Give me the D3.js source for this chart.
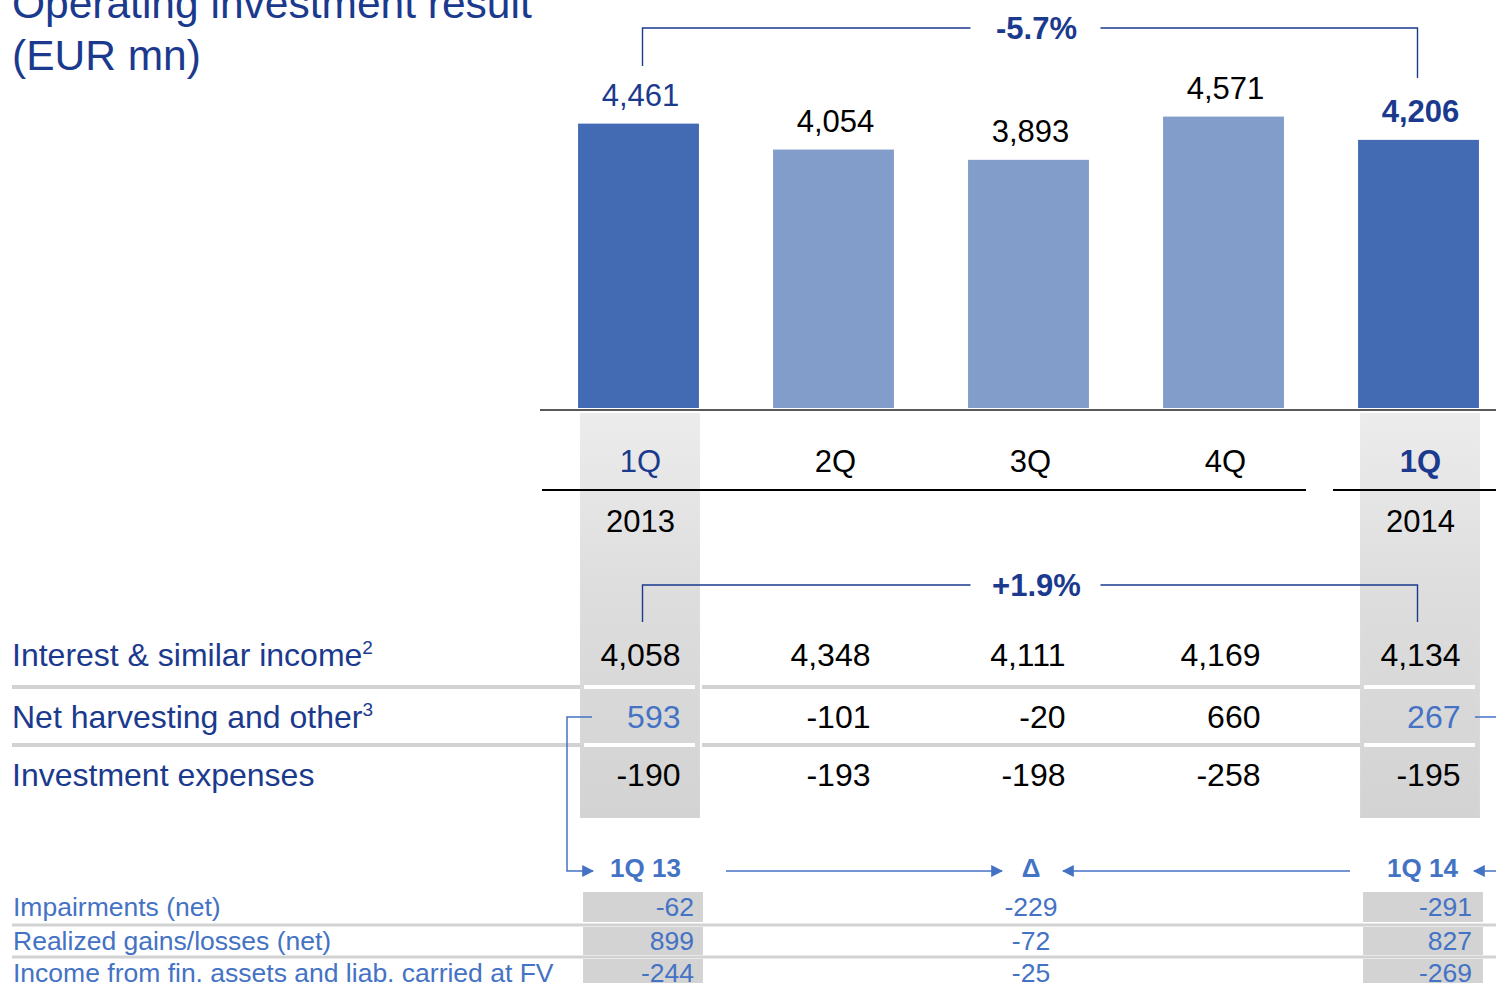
<!DOCTYPE html>
<html>
<head>
<meta charset="utf-8">
<script src="https://cdn.jsdelivr.net/npm/d3@7"></script>
<style>
  html, body { margin: 0; padding: 0; background: #fff; }
  svg { display: block; font-family: "Liberation Sans", Arial, Helvetica, sans-serif; }
</style>
</head>
<body>
<svg id="chart" width="1496" height="983"></svg>
<script>
// Quarterly operating investment result, EUR mn
const quarters = ["1Q", "2Q", "3Q", "4Q", "1Q"];
const years = ["2013", "", "", "", "2014"];
const operatingResult = [4461, 4054, 3893, 4571, 4206];
const highlighted = [true, false, false, false, true];

// Breakdown table
const rowLabels = ["Interest & similar income", "Net harvesting and other", "Investment expenses"];
const rowFootnotes = ["2", "3", ""];
const interestIncome = [4058, 4348, 4111, 4169, 4134];
const netHarvesting = [593, -101, -20, 660, 267];
const investmentExpenses = [-190, -193, -198, -258, -195];

// Change labels between 1Q 13 and 1Q 14
const resultChange = "-5.7%";
const interestChange = "+1.9%";

// Net harvesting detail
const detailHeaders = ["1Q 13", "Δ", "1Q 14"];
const detailLabels = ["Impairments (net)", "Realized gains/losses (net)", "Income from fin. assets and liab. carried at FV"];
const detail1Q13 = [-62, 899, -244];
const detailDelta = [-229, -72, -25];
const detail1Q14 = [-291, 827, -269];

const C = {
  title: "#1b3a8e",
  dark: "#436bb3",
  light: "#839dcb",
  accent: "#4472c4",
  grey: "#d2d2d2"
};

const fmt = d3.formatLocale({ decimal: ".", thousands: ",", grouping: [3], currency: ["", ""], minus: "-" }).format(",");

const svg = d3.select("#chart");

const defs = svg.append("defs");
const grad = defs.append("linearGradient").attr("id", "colShade").attr("x1", 0).attr("y1", 0).attr("x2", 0).attr("y2", 1);
grad.append("stop").attr("offset", "0%").attr("stop-color", "#ececec");
grad.append("stop").attr("offset", "45%").attr("stop-color", "#dddddd");
grad.append("stop").attr("offset", "100%").attr("stop-color", "#d3d3d3");
defs.append("marker").attr("id", "arrow").attr("viewBox", "0 0 10 10").attr("refX", 9).attr("refY", 5)
  .attr("markerWidth", 12).attr("markerHeight", 12).attr("markerUnits", "userSpaceOnUse")
  .attr("orient", "auto")
  .append("path").attr("d", "M0,0 L10,5 L0,10 Z").attr("fill", C.accent);

// Scales
const x = d3.scaleBand().domain(d3.range(quarters.length)).range([541, 1516]).paddingInner(0.38).paddingOuter(0.19);
const y = d3.scaleLinear().domain([0, 6400]).range([408, 0]);
const cx = i => x(i) + x.bandwidth() / 2;

// Title
svg.append("text").attr("x", 12).attr("y", 18).attr("font-size", 42.5).attr("fill", C.title).text("Operating investment result");
svg.append("text").attr("x", 12).attr("y", 70).attr("font-size", 42.5).attr("fill", C.title).text("(EUR mn)");

// Shaded highlight columns behind the table
const hlIdx = d3.range(quarters.length).filter(i => highlighted[i]);
svg.selectAll("rect.shade").data(hlIdx).join("rect").attr("class", "shade")
  .attr("x", i => x(i) + 2).attr("y", 413).attr("width", x.bandwidth() - 1).attr("height", 405)
  .attr("fill", "url(#colShade)");

// Bars
svg.selectAll("rect.bar").data(operatingResult).join("rect").attr("class", "bar")
  .attr("x", (d, i) => x(i)).attr("width", x.bandwidth())
  .attr("y", d => y(d)).attr("height", d => y(0) - y(d))
  .attr("fill", (d, i) => highlighted[i] ? C.dark : C.light);

svg.selectAll("text.barval").data(operatingResult).join("text").attr("class", "barval")
  .attr("x", (d, i) => cx(i) + 2).attr("y", d => y(d) - 18)
  .attr("text-anchor", "middle").attr("font-size", 31)
  .attr("font-weight", (d, i) => i === 4 ? "bold" : "normal")
  .attr("fill", (d, i) => highlighted[i] ? C.title : "#000")
  .text(d => fmt(d));

// Baseline
svg.append("line").attr("x1", 540).attr("x2", 1496).attr("y1", 410).attr("y2", 410).attr("stroke", "#222").attr("stroke-width", 1.5);

// Category axis: quarters and years
svg.selectAll("text.q").data(quarters).join("text").attr("class", "q")
  .attr("x", (d, i) => cx(i) + 2).attr("y", 472).attr("text-anchor", "middle").attr("font-size", 31)
  .attr("font-weight", (d, i) => i === 4 ? "bold" : "normal")
  .attr("fill", (d, i) => highlighted[i] ? C.title : "#000").text(d => d);
svg.append("line").attr("x1", 542).attr("x2", 1306).attr("y1", 490).attr("y2", 490).attr("stroke", "#000").attr("stroke-width", 2);
svg.append("line").attr("x1", 1333).attr("x2", 1496).attr("y1", 490).attr("y2", 490).attr("stroke", "#000").attr("stroke-width", 2);
svg.selectAll("text.yr").data(years).join("text").attr("class", "yr")
  .attr("x", (d, i) => cx(i) + 2).attr("y", 532).attr("text-anchor", "middle").attr("font-size", 31)
  .attr("fill", "#000").text(d => d);

// Change brackets
function bracket(yTop, yL, yR, label) {
  const x0 = cx(0) + 4, x1 = cx(4) - 1, mid = (cx(0) + cx(4)) / 2 + 8;
  const g = svg.append("g").attr("fill", "none").attr("stroke", C.title).attr("stroke-width", 1.4);
  g.append("path").attr("d", `M${x0},${yL} V${yTop} H${mid - 66}`);
  g.append("path").attr("d", `M${mid + 64},${yTop} H${x1} V${yR}`);
  svg.append("text").attr("x", mid).attr("y", yTop + 11).attr("text-anchor", "middle")
    .attr("font-size", 31).attr("font-weight", "bold").attr("fill", C.title).text(label);
}
bracket(28, 66, 78, resultChange);
bracket(585, 622, 622, interestChange);

// Breakdown table
const tableRows = [interestIncome, netHarvesting, investmentExpenses];
const rowBase = [666, 728, 786];
const sepY = [687, 745];
const valueRight = i => cx(i) + (highlighted[i] ? 42 : 37);

sepY.forEach(sy => {
  svg.append("line").attr("x1", 12).attr("x2", x(0) + 2).attr("y1", sy).attr("y2", sy).attr("stroke", C.grey).attr("stroke-width", 4);
  svg.append("line").attr("x1", x(0) + x.bandwidth() + 3).attr("x2", x(4) + 2).attr("y1", sy).attr("y2", sy).attr("stroke", C.grey).attr("stroke-width", 4);
  hlIdx.forEach(i => {
    svg.append("line").attr("x1", x(i) + 6).attr("x2", x(i) + x.bandwidth() - 4).attr("y1", sy).attr("y2", sy).attr("stroke", "#fff").attr("stroke-width", 4);
  });
});

rowLabels.forEach((lab, r) => {
  const t = svg.append("text").attr("x", 12).attr("y", rowBase[r]).attr("font-size", 32).attr("fill", C.title);
  t.append("tspan").text(lab);
  if (rowFootnotes[r]) t.append("tspan").attr("font-size", 19).attr("dy", -12).text(rowFootnotes[r]);
  svg.selectAll(null).data(tableRows[r]).join("text")
    .attr("x", (d, i) => valueRight(i)).attr("y", rowBase[r]).attr("text-anchor", "end").attr("font-size", 32)
    .attr("fill", (d, i) => r === 1 && highlighted[i] ? C.accent : "#000")
    .text(d => fmt(d));
});

// Connectors from net harvesting to the detail table
const aG = svg.append("g").attr("fill", "none").attr("stroke", C.accent).attr("stroke-width", 1.5);
aG.append("path").attr("d", `M${x(0) + 14},717 H567 V871 H593`).attr("marker-end", "url(#arrow)");
aG.append("path").attr("d", "M726,871 H1002").attr("marker-end", "url(#arrow)");
aG.append("path").attr("d", "M1350,871 H1063").attr("marker-end", "url(#arrow)");
aG.append("path").attr("d", `M${x(4) + x.bandwidth() - 4},717 H1496`);
aG.append("path").attr("d", "M1496,871 H1474").attr("marker-end", "url(#arrow)");

const headX = [cx(0) + 7, 1031, cx(4) + 4];
svg.selectAll("text.dh").data(detailHeaders).join("text").attr("class", "dh")
  .attr("x", (d, i) => headX[i]).attr("y", 877).attr("text-anchor", "middle")
  .attr("font-size", 26).attr("font-weight", "bold").attr("fill", C.accent).text(d => d);

// Detail table
const dBase = [916, 950, 982];
const cellTop = [892, 927, 959];
const cellH = [30, 28, 30];
[925, 957].forEach(sy => {
  svg.append("line").attr("x1", 12).attr("x2", 1496).attr("y1", sy).attr("y2", sy).attr("stroke", C.grey).attr("stroke-width", 3);
});
[0, 4].forEach(i => {
  svg.selectAll(null).data(detailLabels).join("rect")
    .attr("x", x(i) + 5).attr("width", x.bandwidth() - 1)
    .attr("y", (d, r) => cellTop[r]).attr("height", (d, r) => cellH[r]).attr("fill", "#d3d3d3");
});
svg.selectAll("text.dl").data(detailLabels).join("text").attr("class", "dl")
  .attr("x", 13).attr("y", (d, r) => dBase[r]).attr("font-size", 26.5).attr("fill", C.accent).text(d => d);
svg.selectAll("text.d13").data(detail1Q13).join("text").attr("class", "d13")
  .attr("x", x(0) + x.bandwidth() - 5).attr("y", (d, r) => dBase[r]).attr("text-anchor", "end")
  .attr("font-size", 26.5).attr("fill", C.accent).text(d => fmt(d));
svg.selectAll("text.dd").data(detailDelta).join("text").attr("class", "dd")
  .attr("x", 1031).attr("y", (d, r) => dBase[r]).attr("text-anchor", "middle")
  .attr("font-size", 26.5).attr("fill", C.accent).text(d => fmt(d));
svg.selectAll("text.d14").data(detail1Q14).join("text").attr("class", "d14")
  .attr("x", x(4) + x.bandwidth() - 7).attr("y", (d, r) => dBase[r]).attr("text-anchor", "end")
  .attr("font-size", 26.5).attr("fill", C.accent).text(d => fmt(d));
</script>
</body>
</html>
